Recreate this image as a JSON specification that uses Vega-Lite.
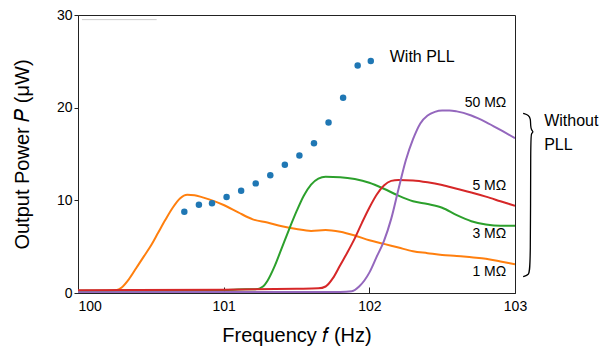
{
  "$schema": "https://vega.github.io/schema/vega-lite/v6.json",
  "width": 437,
  "height": 278,
  "autosize": "none",
  "padding": {"left": 78, "top": 15, "right": 101, "bottom": 71},
  "background": "white",
  "config": {
    "font": "Liberation Sans",
    "view": {"stroke": "#222", "strokeWidth": 1},
    "axis": {"grid": false, "domainColor": "#222", "tickColor": "#222", "labelColor": "#000", "titleColor": "#000", "labelFont": "Liberation Sans", "titleFont": "Liberation Sans", "labelFontSize": 14, "titleFontSize": 20, "titleFontWeight": "normal"}
  },
  "datasets": {
    "curves": [
      {"s": "1", "f": 100.0, "P": 0.2}, {"s": "1", "f": 100.2, "P": 0.22}, {"s": "1", "f": 100.26, "P": 0.3}, {"s": "1", "f": 100.3, "P": 0.6}, {"s": "1", "f": 100.35, "P": 1.5}, {"s": "1", "f": 100.4, "P": 2.7}, {"s": "1", "f": 100.45, "P": 3.9}, {"s": "1", "f": 100.5, "P": 5.1}, {"s": "1", "f": 100.55, "P": 6.5}, {"s": "1", "f": 100.6, "P": 7.9}, {"s": "1", "f": 100.65, "P": 9.2}, {"s": "1", "f": 100.7, "P": 10.2}, {"s": "1", "f": 100.75, "P": 10.6}, {"s": "1", "f": 100.8, "P": 10.55}, {"s": "1", "f": 100.85, "P": 10.35}, {"s": "1", "f": 100.9, "P": 10.1}, {"s": "1", "f": 101.0, "P": 9.5}, {"s": "1", "f": 101.1, "P": 8.7}, {"s": "1", "f": 101.2, "P": 7.95}, {"s": "1", "f": 101.3, "P": 7.6}, {"s": "1", "f": 101.4, "P": 7.2}, {"s": "1", "f": 101.5, "P": 6.9}, {"s": "1", "f": 101.6, "P": 6.7}, {"s": "1", "f": 101.7, "P": 6.8}, {"s": "1", "f": 101.8, "P": 6.6}, {"s": "1", "f": 101.9, "P": 6.2}, {"s": "1", "f": 102.0, "P": 5.7}, {"s": "1", "f": 102.1, "P": 5.3}, {"s": "1", "f": 102.2, "P": 4.9}, {"s": "1", "f": 102.3, "P": 4.5}, {"s": "1", "f": 102.4, "P": 4.3}, {"s": "1", "f": 102.5, "P": 4.1}, {"s": "1", "f": 102.6, "P": 4.0}, {"s": "1", "f": 102.7, "P": 3.85}, {"s": "1", "f": 102.8, "P": 3.7}, {"s": "1", "f": 102.9, "P": 3.4}, {"s": "1", "f": 103.0, "P": 3.1},
      {"s": "3", "f": 100.0, "P": 0.25}, {"s": "3", "f": 100.5, "P": 0.25}, {"s": "3", "f": 101.0, "P": 0.3}, {"s": "3", "f": 101.15, "P": 0.4}, {"s": "3", "f": 101.22, "P": 0.4}, {"s": "3", "f": 101.27, "P": 0.7}, {"s": "3", "f": 101.3, "P": 1.3}, {"s": "3", "f": 101.35, "P": 2.9}, {"s": "3", "f": 101.4, "P": 4.9}, {"s": "3", "f": 101.45, "P": 6.9}, {"s": "3", "f": 101.5, "P": 8.8}, {"s": "3", "f": 101.55, "P": 10.5}, {"s": "3", "f": 101.6, "P": 11.7}, {"s": "3", "f": 101.65, "P": 12.35}, {"s": "3", "f": 101.7, "P": 12.55}, {"s": "3", "f": 101.8, "P": 12.5}, {"s": "3", "f": 101.9, "P": 12.3}, {"s": "3", "f": 102.0, "P": 11.9}, {"s": "3", "f": 102.1, "P": 11.25}, {"s": "3", "f": 102.2, "P": 10.5}, {"s": "3", "f": 102.3, "P": 9.9}, {"s": "3", "f": 102.4, "P": 9.6}, {"s": "3", "f": 102.5, "P": 9.2}, {"s": "3", "f": 102.6, "P": 8.4}, {"s": "3", "f": 102.7, "P": 7.75}, {"s": "3", "f": 102.8, "P": 7.4}, {"s": "3", "f": 102.9, "P": 7.25}, {"s": "3", "f": 103.0, "P": 7.25},
      {"s": "5", "f": 100.0, "P": 0.3}, {"s": "5", "f": 101.0, "P": 0.35}, {"s": "5", "f": 101.5, "P": 0.45}, {"s": "5", "f": 101.65, "P": 0.5}, {"s": "5", "f": 101.7, "P": 0.7}, {"s": "5", "f": 101.75, "P": 1.6}, {"s": "5", "f": 101.8, "P": 3.0}, {"s": "5", "f": 101.85, "P": 4.4}, {"s": "5", "f": 101.9, "P": 5.9}, {"s": "5", "f": 101.95, "P": 7.6}, {"s": "5", "f": 102.0, "P": 9.2}, {"s": "5", "f": 102.05, "P": 10.6}, {"s": "5", "f": 102.1, "P": 11.6}, {"s": "5", "f": 102.15, "P": 12.1}, {"s": "5", "f": 102.2, "P": 12.2}, {"s": "5", "f": 102.3, "P": 12.15}, {"s": "5", "f": 102.4, "P": 11.95}, {"s": "5", "f": 102.5, "P": 11.65}, {"s": "5", "f": 102.6, "P": 11.25}, {"s": "5", "f": 102.7, "P": 10.85}, {"s": "5", "f": 102.8, "P": 10.4}, {"s": "5", "f": 102.9, "P": 9.9}, {"s": "5", "f": 103.0, "P": 9.4},
      {"s": "50", "f": 100.0, "P": 0.08}, {"s": "50", "f": 101.8, "P": 0.12}, {"s": "50", "f": 101.88, "P": 0.2}, {"s": "50", "f": 101.93, "P": 0.7}, {"s": "50", "f": 102.0, "P": 2.2}, {"s": "50", "f": 102.05, "P": 3.9}, {"s": "50", "f": 102.1, "P": 5.6}, {"s": "50", "f": 102.15, "P": 8.0}, {"s": "50", "f": 102.2, "P": 11.2}, {"s": "50", "f": 102.25, "P": 14.3}, {"s": "50", "f": 102.3, "P": 16.6}, {"s": "50", "f": 102.35, "P": 18.3}, {"s": "50", "f": 102.4, "P": 19.15}, {"s": "50", "f": 102.45, "P": 19.55}, {"s": "50", "f": 102.5, "P": 19.7}, {"s": "50", "f": 102.55, "P": 19.7}, {"s": "50", "f": 102.6, "P": 19.6}, {"s": "50", "f": 102.7, "P": 19.15}, {"s": "50", "f": 102.8, "P": 18.45}, {"s": "50", "f": 102.9, "P": 17.6}, {"s": "50", "f": 103.0, "P": 16.7}
    ],
    "pll": [
      {"f": 100.73, "P": 8.77}, {"f": 100.83, "P": 9.53}, {"f": 100.92, "P": 9.68}, {"f": 101.02, "P": 10.36}, {"f": 101.12, "P": 11.04}, {"f": 101.22, "P": 11.83}, {"f": 101.32, "P": 12.7}, {"f": 101.42, "P": 13.84}, {"f": 101.52, "P": 14.85}, {"f": 101.62, "P": 16.15}, {"f": 101.72, "P": 18.41}, {"f": 101.82, "P": 21.07}, {"f": 101.92, "P": 24.56}, {"f": 102.01, "P": 25.03}
    ],
    "labels": [
      {"f": 102.94, "P": 20.46, "t": "50 MΩ"},
      {"f": 102.94, "P": 11.54, "t": "5 MΩ"},
      {"f": 102.94, "P": 6.33, "t": "3 MΩ"},
      {"f": 102.94, "P": 2.23, "t": "1 MΩ"}
    ],
    "outside": [
      {"f": 102.14, "P": 25.5, "t": "With PLL"},
      {"f": 103.2, "P": 18.55, "t": "Without"},
      {"f": 103.2, "P": 15.97, "t": "PLL"}
    ],
    "brace": [
      {"o": 1, "f": 103.056, "P": 19.39}, {"o": 2, "f": 103.095, "P": 19.2}, {"o": 3, "f": 103.107, "P": 18.8}, {"o": 4, "f": 103.107, "P": 18.0}, {"o": 5, "f": 103.112, "P": 17.6}, {"o": 6, "f": 103.128, "P": 17.4}, {"o": 7, "f": 103.112, "P": 17.2}, {"o": 8, "f": 103.107, "P": 16.8}, {"o": 9, "f": 103.107, "P": 2.6}, {"o": 10, "f": 103.095, "P": 1.95}, {"o": 11, "f": 103.056, "P": 1.76}
    ],
    "faint": [{"f": 100.027, "f2": 100.54, "P": 29.5}]
  },
  "layer": [
    {
      "data": {"name": "faint"},
      "mark": {"type": "rule", "color": "#cccccc", "strokeWidth": 1},
      "encoding": {
        "x": {"field": "f", "type": "quantitative", "scale": {"domain": [100, 103], "nice": false, "zero": false}},
        "x2": {"field": "f2"},
        "y": {"field": "P", "type": "quantitative", "scale": {"domain": [0, 30], "nice": false}}
      }
    },
    {
      "data": {"name": "curves"},
      "mark": {"type": "line", "interpolate": "monotone", "strokeWidth": 2, "clip": true},
      "encoding": {
        "x": {"field": "f", "type": "quantitative", "scale": {"domain": [100, 103], "nice": false, "zero": false},
          "axis": {"values": [100, 101, 102, 103], "format": "d", "tickSize": -6, "labelPadding": 12, "labelAlign": {"expr": "datum.value == 100 ? 'left' : 'center'"}, "title": "Frequency 𝑓 (Hz)", "titleY": 42, "titleBaseline": "middle"}},
        "y": {"field": "P", "type": "quantitative", "scale": {"domain": [0, 30], "nice": false},
          "axis": {"values": [0, 10, 20, 30], "format": "d", "tickSize": 4, "labelPadding": 2, "title": "Output Power 𝑃 (μW)", "titleX": -56, "titleY": 139, "titleAngle": -90, "titleBaseline": "middle", "titleAlign": "center"}},
        "color": {"field": "s", "type": "nominal", "scale": {"domain": ["1", "3", "5", "50"], "range": ["#ff7f0e", "#2ca02c", "#d62728", "#9467bd"]}, "legend": null}
      }
    },
    {
      "data": {"name": "pll"},
      "mark": {"type": "circle", "size": 42, "opacity": 1, "color": "#1f77b4"},
      "encoding": {
        "x": {"field": "f", "type": "quantitative"},
        "y": {"field": "P", "type": "quantitative"}
      }
    },
    {
      "data": {"name": "labels"},
      "mark": {"type": "text", "align": "right", "baseline": "middle", "fontSize": 14, "color": "#000"},
      "encoding": {
        "x": {"field": "f", "type": "quantitative"},
        "y": {"field": "P", "type": "quantitative"},
        "text": {"field": "t"}
      }
    },
    {
      "data": {"name": "outside"},
      "mark": {"type": "text", "align": "left", "baseline": "middle", "fontSize": 16, "color": "#000", "clip": false},
      "encoding": {
        "x": {"field": "f", "type": "quantitative"},
        "y": {"field": "P", "type": "quantitative"},
        "text": {"field": "t"}
      }
    },
    {
      "data": {"name": "brace"},
      "mark": {"type": "line", "interpolate": "basis", "strokeWidth": 1.3, "color": "#000", "clip": false},
      "encoding": {
        "x": {"field": "f", "type": "quantitative"},
        "y": {"field": "P", "type": "quantitative"},
        "order": {"field": "o", "type": "quantitative"}
      }
    }
  ]
}
